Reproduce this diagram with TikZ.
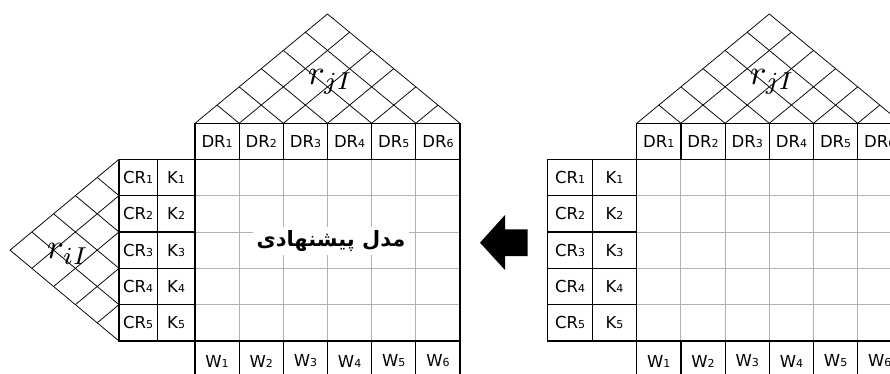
\documentclass[tikz,border=0pt]{standalone}
\usepackage{fontspec}
\setmainfont{DejaVu Sans}
\newfontfamily\arabicfont[Script=Arabic]{DejaVu Sans}
\TeXXeTstate=1
\usetikzlibrary{calc}
\newcommand\dsub[1]{{\fontsize{11}{11}\selectfont #1}}
\begin{document}
\begin{tikzpicture}[x=1pt,y=-1pt,
  cellbox/.style={draw=black, line width=1.2pt, inner sep=0pt, outer sep=0pt,
    font=\fontsize{16.5}{17}\selectfont},
  borderline/.style={draw=black, line width=1.2pt},
  lat/.style={draw=black, line width=0.75pt},
  gridg/.style={draw=black!30, line width=1pt},
  rlabel/.style={inner sep=0pt, scale=3.5},
  ]
\useasboundingbox (0,0) rectangle (890,374);
\clip (0,0) rectangle (890,374);

\foreach \p/\xo/\cw/\crx/\kx in {L/195/44.17/119/157.3, R/636.7/44.2/547.7/592.3}{
  % grey inner grid of the body
  \foreach \i in {1,...,5}
    \draw[gridg] ({\xo+\i*\cw},159.3) -- ({\xo+\i*\cw},341);
  \foreach \j in {1,...,4}
    \draw[gridg] (\xo,{159.3+\j*36.35}) -- ({\xo+6*\cw},{159.3+\j*36.35});
  % body outline
  \draw[borderline] (\xo,159.3) rectangle ({\xo+6*\cw},341);
  % DR header and W footer cells
  \foreach \i in {1,...,6}{
    \node[cellbox, minimum width=\cw pt, minimum height=36pt]
      (\p-dr\i) at ({\xo+(\i-0.5)*\cw},141.3) {DR\dsub{\i}};
    \node[cellbox, minimum width=\cw pt, minimum height=40pt]
      (\p-w\i) at ({\xo+(\i-0.5)*\cw},361) {W\dsub{\i}};
  }
  % CR and K cells
  \foreach \j in {1,...,5}{
    \node[cellbox, minimum width={(\kx-\crx)*1pt}, minimum height=36.35pt]
      (\p-cr\j) at ({(\crx+\kx)/2},{159.3+(\j-0.5)*36.35}) {CR\dsub{\j}};
    \node[cellbox, minimum width={(\xo-\kx)*1pt}, minimum height=36.35pt]
      (\p-k\j) at ({(\kx+\xo)/2},{159.3+(\j-0.5)*36.35}) {K\dsub{\j}};
  }
  % top triangular lattice
  \coordinate (\p-A) at (\xo,123.3);
  \coordinate (\p-B) at ({\xo+6*\cw},123.3);
  \coordinate (\p-C) at ({\xo+3*\cw},14);
  \draw[lat] (\p-A) -- (\p-C) -- (\p-B);
  \foreach \k in {1,...,5}{
    \draw[lat] ($(\p-A)!\k/6!(\p-B)$) -- ($(\p-A)!\k/6!(\p-C)$);
    \draw[lat] ($(\p-A)!\k/6!(\p-B)$) -- ($(\p-B)!{1-\k/6}!(\p-C)$);
  }
  \node[rlabel] (\p-rj) at ({\xo+3*\cw+3},82) {$r_{jI}$};
}

% left triangular lattice (proposed model only)
\coordinate (D) at (119,159.3);
\coordinate (E) at (119,341);
\coordinate (F) at (10,250.15);
\draw[lat] (D) -- (F) -- (E);
\foreach \k in {1,...,4}{
  \draw[lat] ($(D)!\k/5!(E)$) -- ($(D)!\k/5!(F)$);
  \draw[lat] ($(D)!\k/5!(E)$) -- ($(E)!{1-\k/5}!(F)$);
}
\node[rlabel] (ri) at (68,254) {$r_{iI}$};

% title of the proposed model
\node[fill=white, inner xsep=4pt, inner ysep=3pt,
  font=\fontsize{21}{22}\selectfont\arabicfont\bfseries] (title) at (331,241)
  {\beginR مدل پیشنهادی\endR};

% block arrow
\fill[black] (480,242.7) -- (505,215) -- (505,229.3) -- (527.7,229.3)
  -- (527.7,256) -- (505,256) -- (505,270) -- cycle;
\end{tikzpicture}
\end{document}
